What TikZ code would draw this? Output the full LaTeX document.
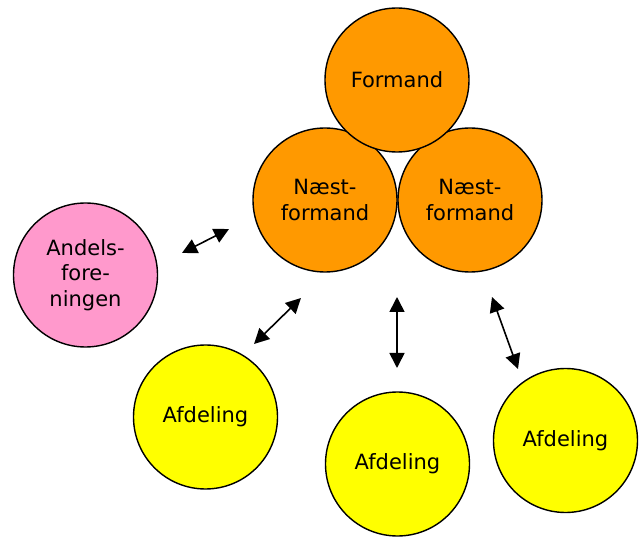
\documentclass[tikz,border=0pt]{standalone}
\usepackage{fontspec}
\setmainfont{DejaVu Sans}
\usetikzlibrary{arrows.meta}

\begin{document}
\begin{tikzpicture}[x=1pt, y=-1pt,
    member/.style={circle, draw=black, line width=1.4pt,
        minimum size=144pt, inner sep=0pt, align=center,
        font=\fontsize{21}{25.5}\selectfont},
    board/.style={member, fill=orange1},
    society/.style={member, fill=pink1},
    branch/.style={member, fill=yellow1},
    link/.style={line width=1.6pt,
        {Triangle[length=15pt,width=15pt]}-{Triangle[length=15pt,width=15pt]}}
]
    \definecolor{orange1}{HTML}{FF9900}
    \definecolor{pink1}{HTML}{FF99CC}
    \definecolor{yellow1}{HTML}{FFFF00}
    \useasboundingbox (0,0) rectangle (643,537);
    \node[board] (naestA) at (325,200) {Næst-\\formand};
    \node[board] (naestB) at (470,200) {Næst-\\formand};
    \node[board] (formand) at (397,80) {Formand};
    \node[society] (andel) at (85.5,275) {Andels-\\fore-\\ningen};
    \node[branch] (afdA) at (205.5,417) {Afdeling};
    \node[branch] (afdB) at (397.5,464) {Afdeling};
    \node[branch] (afdC) at (565.5,440.5) {Afdeling};
    \coordinate (a1) at (182,253);
    \coordinate (a2) at (229,229);
    \coordinate (b1) at (254,344);
    \coordinate (b2) at (301,298);
    \coordinate (c1) at (397,297);
    \coordinate (c2) at (397,368);
    \coordinate (d1) at (492,297);
    \coordinate (d2) at (518,369);
    \draw[link] (a1) -- (a2);
    \draw[link] (b1) -- (b2);
    \draw[link] (c1) -- (c2);
    \draw[link] (d1) -- (d2);
\end{tikzpicture}
\end{document}
